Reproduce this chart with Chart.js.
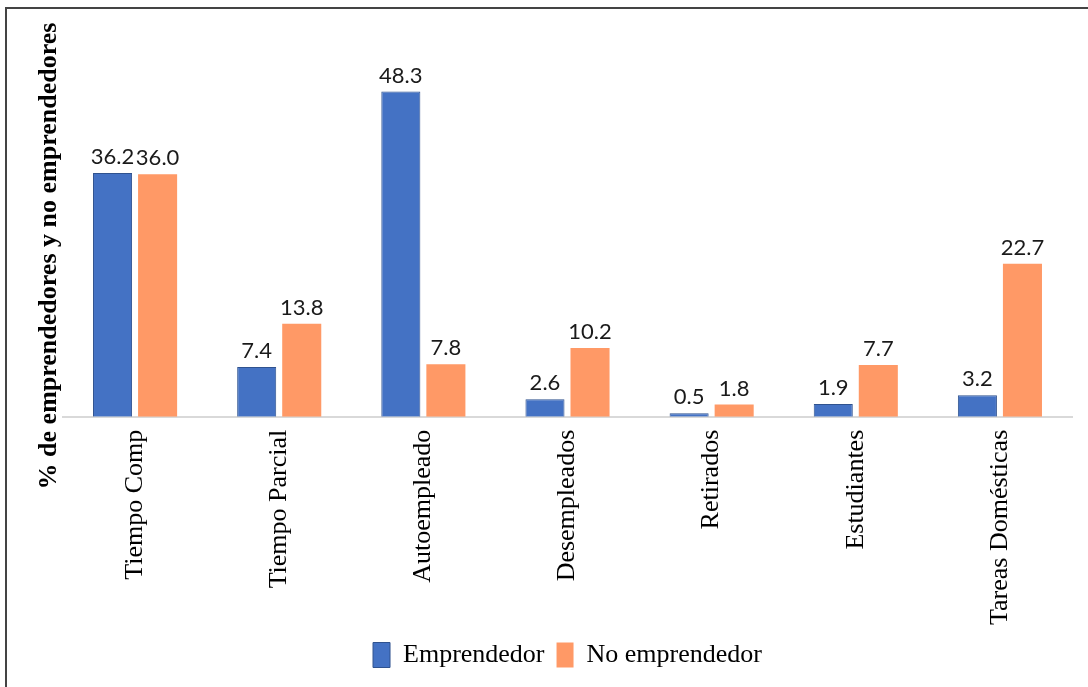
<!DOCTYPE html>
<html lang="es">

<head>
    <meta charset="UTF-8">
    <title>Emprendedores y no emprendedores por situación laboral</title>
    <script src="https://cdn.jsdelivr.net/npm/chart.js"></script>
    <style>
        body { margin: 0; background: #fff; }
        #wrap { position: relative; width: 1088px; height: 687px; overflow: hidden; }
        #frame { position: absolute; left: 5px; top: 7px; width: 1200px; height: 800px; border: 2px solid #444; }
        #myChart { position: absolute; left: 0; top: 0; }
    </style>
</head>

<body>
    <div id="wrap">
        <div id="frame"></div>
        <canvas id="myChart" width="1088" height="687"></canvas>
    </div>

    <script>
        // data
        const categories = ['Tiempo Comp', 'Tiempo Parcial', 'Autoempleado', 'Desempleados',
            'Retirados', 'Estudiantes', 'Tareas Domésticas'];
        const emprendedor = [36.2, 7.4, 48.3, 2.6, 0.5, 1.9, 3.2];
        const noEmprendedor = [36.0, 13.8, 7.8, 10.2, 1.8, 7.7, 22.7];
        const yTitle = '% de emprendedores y no emprendedores';

        // value labels above the bars
        const valueLabels = {
            id: 'valueLabels',
            afterDatasetsDraw(chart) {
                const ctx = chart.ctx;
                ctx.save();
                ctx.font = '22px Lato';
                ctx.fillStyle = '#1a1a1a';
                ctx.textAlign = 'center';
                ctx.textBaseline = 'bottom';
                chart.data.datasets.forEach((ds, i) => {
                    chart.getDatasetMeta(i).data.forEach((bar, j) => {
                        ctx.fillText(ds.data[j].toFixed(1), bar.x, bar.y - 5);
                    });
                });
                ctx.restore();
            }
        };

        // y axis title, centred on the whole figure height like the original
        const yTitlePlugin = {
            id: 'yTitle',
            afterDraw(chart) {
                const ctx = chart.ctx;
                ctx.save();
                ctx.translate(49, 256);
                ctx.rotate(-Math.PI / 2);
                ctx.font = 'bold 26px "Liberation Serif"';
                ctx.fillStyle = '#000';
                ctx.textAlign = 'center';
                ctx.textBaseline = 'middle';
                ctx.fillText(yTitle, 0, 0);
                ctx.restore();
            }
        };

        const ctx = document.getElementById('myChart').getContext('2d');
        const chart = new Chart(ctx, {
            type: 'bar',
            data: {
                labels: categories,
                datasets: [{
                    label: 'Emprendedor',
                    data: emprendedor,
                    backgroundColor: '#4472C4',
                    borderColor: '#2F528F',
                    borderWidth: 1,
                    categoryPercentage: 0.625,
                    barPercentage: 0.867
                },
                {
                    label: 'No emprendedor',
                    data: noEmprendedor,
                    backgroundColor: '#FF9966',
                    borderColor: '#FF9966',
                    borderWidth: 0,
                    categoryPercentage: 0.625,
                    barPercentage: 0.867
                }
                ]
            },
            options: {
                responsive: false,
                animation: false,
                layout: {
                    padding: { left: 63, right: 16, top: 80, bottom: 9 }
                },
                plugins: {
                    legend: {
                        position: 'bottom',
                        labels: {
                            boxWidth: 17,
                            boxHeight: 25,
                            padding: 12,
                            color: '#000',
                            font: { family: '"Liberation Serif"', size: 26 }
                        }
                    },
                    tooltip: { enabled: false }
                },
                scales: {
                    x: {
                        grid: { display: false },
                        border: { color: '#D9D9D9', width: 2 },
                        ticks: {
                            autoSkip: false,
                            maxRotation: 90,
                            minRotation: 90,
                            padding: 5,
                            color: '#000',
                            font: { family: '"Liberation Serif"', size: 26 }
                        }
                    },
                    y: {
                        display: false,
                        min: 0,
                        max: 50
                    }
                }
            },
            plugins: [valueLabels, yTitlePlugin]
        });
    </script>
</body>

</html>
